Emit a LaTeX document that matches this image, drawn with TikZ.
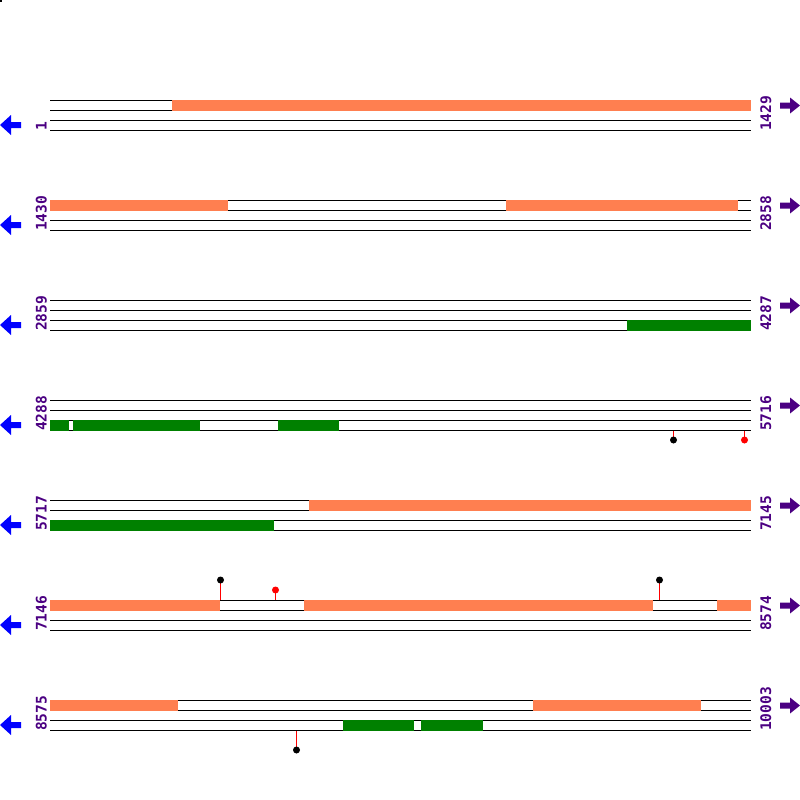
\documentclass[tikz,border=0pt]{standalone}
\usepackage{fontspec}
\newfontfamily\labfont{DejaVu Sans Mono}
\definecolor{coralc}{HTML}{FF7F50}
\definecolor{grnc}{HTML}{008000}
\definecolor{indc}{HTML}{4B0082}
\definecolor{bluec}{HTML}{0000FF}
\begin{document}
\begin{tikzpicture}[x=1pt,y=-1pt,
  trk/.style={black,line width=1pt},
  orangebar/.style={fill=coralc},
  greenbar/.style={fill=grnc},
  stem/.style={red,line width=1pt},
  lab/.style={text=indc,font=\labfont\bfseries\fontsize{14.6}{15}\selectfont,inner sep=0pt,rotate=90,anchor=base west},
  leftarrow/.style={fill=bluec},
  rightarrow/.style={fill=indc}]
\useasboundingbox (0,0) rectangle (800,800);
\fill[black] (0,0) rectangle (2,2);
\foreach \b/\l/\r [count=\i] in {100/1/1429,200/1430/2858,300/2859/4287,400/4288/5716,500/5717/7145,600/7146/8574,700/8575/10003}{
  \foreach \k in {0,10,20,30}
    \draw[trk] (50,\b+\k+0.5) -- (751,\b+\k+0.5);
  \node[lab] (l\i) at (46.5,\b+31) {\l};
  \node[lab] (r\i) at (771,\b+31) {\r};
  \fill[leftarrow] (0,\b+25) -- (11,\b+15) -- (11,\b+22) -- (21,\b+22) -- (21,\b+28) -- (11,\b+28) -- (11,\b+35) -- cycle;
  \fill[rightarrow] (800,\b+5.5) -- (790,\b-2.5) -- (790,\b+2.5) -- (780,\b+2.5) -- (780,\b+8.5) -- (790,\b+8.5) -- (790,\b+13.5) -- cycle;
}
% row 1
\fill[orangebar] (172,100) rectangle (751,111);
% row 2
\fill[orangebar] (50,200) rectangle (228,211);
\fill[orangebar] (506,200) rectangle (738,211);
% row 3
\fill[greenbar] (627,320) rectangle (751,331);
% row 4
\fill[greenbar] (50,420) rectangle (69,431);
\fill[greenbar] (73,420) rectangle (200,431);
\fill[greenbar] (278,420) rectangle (339,431);
\draw[stem] (673.5,431) -- (673.5,440);
\fill[black] (673.5,440) circle (3.5);
\draw[stem] (744.5,431) -- (744.5,440);
\fill[red] (744.5,440) circle (3.5);
% row 5
\fill[orangebar] (309,500) rectangle (751,511);
\fill[greenbar] (50,520) rectangle (274,531);
% row 6
\fill[orangebar] (50,600) rectangle (220,611);
\fill[orangebar] (304,600) rectangle (653,611);
\fill[orangebar] (717,600) rectangle (751,611);
\draw[stem] (220.5,600) -- (220.5,580);
\fill[black] (220.5,580) circle (3.5);
\draw[stem] (275.5,600) -- (275.5,590);
\fill[red] (275.5,590) circle (3.5);
\draw[stem] (659.5,600) -- (659.5,580);
\fill[black] (659.5,580) circle (3.5);
% row 7
\fill[orangebar] (50,700) rectangle (178,711);
\fill[orangebar] (533,700) rectangle (701,711);
\fill[greenbar] (343,720) rectangle (414,731);
\fill[greenbar] (421,720) rectangle (483,731);
\draw[stem] (296.5,731) -- (296.5,750);
\fill[black] (296.5,750) circle (3.5);
\end{tikzpicture}
\end{document}
